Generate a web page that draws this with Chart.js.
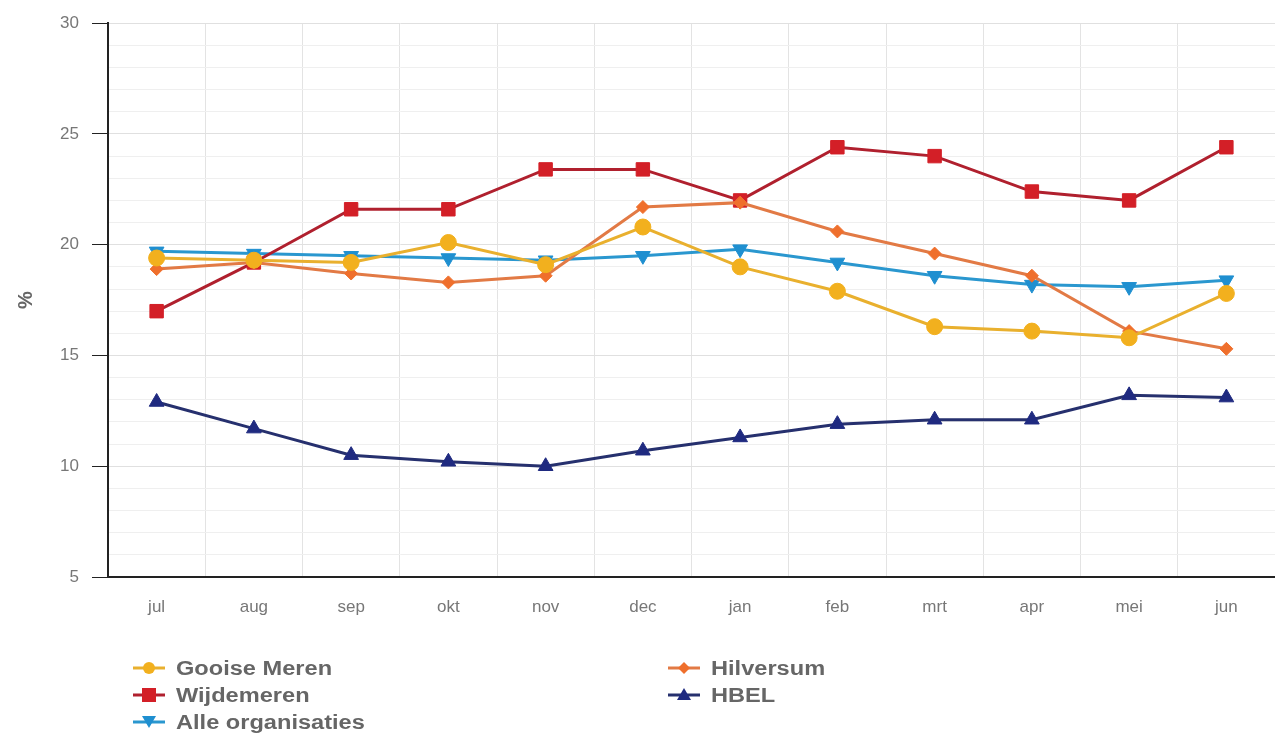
<!DOCTYPE html>
<html>
<head>
<meta charset="utf-8">
<script src="https://cdn.jsdelivr.net/npm/chart.js@4"></script>
<style>
    html, body { margin: 0; padding: 0; background: #fff; overflow: hidden; }
    #wrap { position: relative; width: 1275px; height: 736px; }
    #legend { position: absolute; left: 133px; top: 655px; width: 1100px; font-family: "Liberation Sans", Arial, sans-serif; font-weight: bold; font-size: 20px; color: #666; }
    .item { position: absolute; display: flex; align-items: center; height: 26px; white-space: nowrap; }
    .item svg { margin-right: 11px; }
    .item span { display: inline-block; transform: scaleX(1.18); transform-origin: left center; }
</style>
</head>
<body>
<div id="wrap">
    <canvas id="chart" width="1275" height="736"></canvas>
    <div id="legend"></div>
</div>
<script>
const months = ['jul', 'aug', 'sep', 'okt', 'nov', 'dec', 'jan', 'feb', 'mrt', 'apr', 'mei', 'jun'];

const gooiseMeren = [19.4, 19.3, 19.2, 20.1, 19.1, 20.8, 19.0, 17.9, 16.3, 16.1, 15.8, 17.8];
const hilversum = [18.9, 19.2, 18.7, 18.3, 18.6, 21.7, 21.9, 20.6, 19.6, 18.6, 16.1, 15.3];
const wijdemeren = [17.0, 19.2, 21.6, 21.6, 23.4, 23.4, 22.0, 24.4, 24.0, 22.4, 22.0, 24.4];
const hbel = [12.9, 11.7, 10.5, 10.2, 10.0, 10.7, 11.3, 11.9, 12.1, 12.1, 13.2, 13.1];
const alleOrganisaties = [19.7, 19.6, 19.5, 19.4, 19.3, 19.5, 19.8, 19.2, 18.6, 18.2, 18.1, 18.4];

const yMin = 5, yMax = 30, yMajorStep = 5;

// legend order matches the two-column layout (row by row)
const series = [
    { label: 'Gooise Meren', data: gooiseMeren, color: '#f2b01e', line: '#e9b02e', style: 'circle', radius: 8, rot: 0 },
    { label: 'Hilversum', data: hilversum, color: '#ef6f2c', line: '#e27a45', style: 'rectRot', radius: 6.5, rot: 0 },
    { label: 'Wijdemeren', data: wijdemeren, color: '#d31f27', line: '#b0202e', style: 'rect', radius: 9.5, rot: 0 },
    { label: 'HBEL', data: hbel, color: '#1f2a80', line: '#26306e', style: 'triangle', radius: 8.5, rot: 0 },
    { label: 'Alle organisaties', data: alleOrganisaties, color: '#1f8fd0', line: '#2a97cf', style: 'triangle', radius: 8.5, rot: 180 }
];

const FONT = '"Liberation Sans", Arial, sans-serif';

const chart = new Chart(document.getElementById('chart'), {
    type: 'line',
    data: {
        labels: months,
        datasets: series.map(s => ({
            label: s.label,
            data: s.data,
            borderColor: s.line,
            backgroundColor: s.color,
            borderWidth: 3,
            pointStyle: s.style,
            pointRadius: s.radius,
            pointRotation: s.rot,
            pointBackgroundColor: s.color,
            pointBorderColor: s.color,
            pointBorderWidth: 1,
            tension: 0,
            fill: false
        }))
    },
    options: {
        responsive: false,
        animation: false,
        layout: { autoPadding: false, padding: { top: 23, right: -3, bottom: 109, left: 0 } },
        plugins: {
            legend: { display: false },
            tooltip: { enabled: false }
        },
        scales: {
            x: {
                offset: true,
                grid: { offset: true, color: '#e3e3e3', lineWidth: 1, drawTicks: false },
                border: { display: true, color: '#222', width: 2 },
                ticks: { color: '#777', font: { family: FONT, size: 17 }, padding: 20 },
                afterFit: scale => { scale.height = 50; }
            },
            y: {
                min: yMin,
                max: yMax,
                grid: {
                    color: ctx => (ctx.tick && ctx.tick.value % yMajorStep === 0) ? '#e0e0e0' : '#efefef',
                    tickColor: ctx => (ctx.tick && ctx.tick.value % yMajorStep === 0) ? '#222' : 'rgba(0,0,0,0)',
                    tickLength: 16,
                    lineWidth: 1
                },
                border: { display: true, color: '#222', width: 2 },
                ticks: {
                    stepSize: 1,
                    autoSkip: false,
                    color: '#777',
                    padding: 13,
                    font: { family: FONT, size: 17 },
                    callback: v => (v % yMajorStep === 0 ? v : '')
                },
                title: { display: true, text: '%', color: '#666', font: { family: FONT, size: 20, weight: 'bold' }, padding: { top: 14, bottom: 0 } },
                afterFit: scale => { scale.width = 108; }
            }
        }
    }
});

// two-column legend built from the datasets
const legend = document.getElementById('legend');
const colX = [0, 535];
series.forEach((s, i) => {
    const div = document.createElement('div');
    div.className = 'item';
    div.style.left = colX[i % 2] + 'px';
    div.style.top = (Math.floor(i / 2) * 27) + 'px';
    let marker = '';
    const c = s.color;
    if (s.style === 'circle') marker = `<circle cx="16" cy="9" r="6" fill="${c}"/>`;
    else if (s.style === 'rect') marker = `<rect x="9" y="2" width="14" height="14" fill="${c}"/>`;
    else if (s.style === 'rectRot') marker = `<polygon points="16,3 22,9 16,15 10,9" fill="${c}"/>`;
    else if (s.rot === 180) marker = `<polygon points="9,3 23,3 16,15" fill="${c}"/>`;
    else marker = `<polygon points="16,2 23,14 9,14" fill="${c}"/>`;
    div.innerHTML = `<svg width="32" height="18"><line x1="0" y1="9" x2="32" y2="9" stroke="${s.line}" stroke-width="3"/>${marker}</svg><span>${s.label}</span>`;
    legend.appendChild(div);
});
</script>
</body>
</html>
